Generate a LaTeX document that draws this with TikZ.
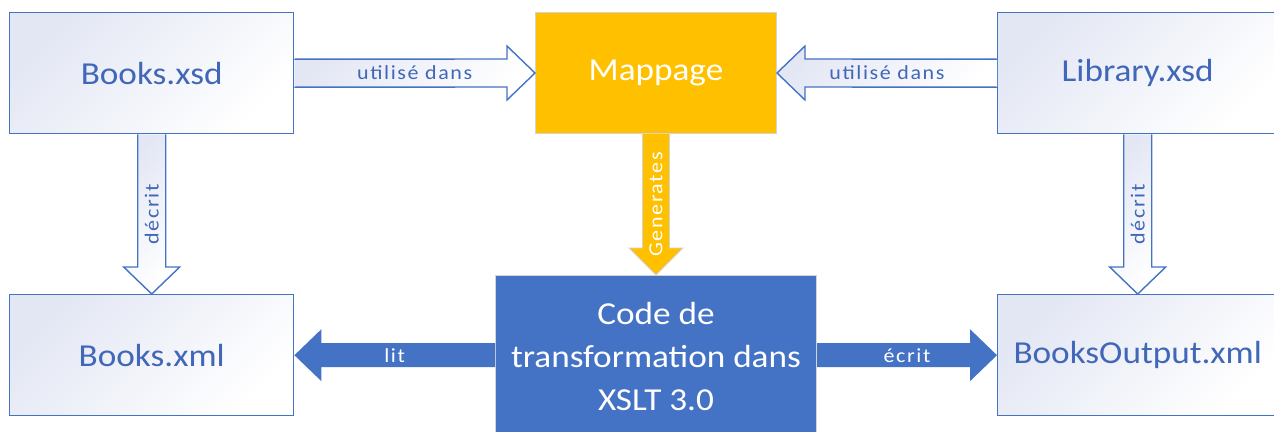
\documentclass[tikz,border=0pt]{standalone}
\usepackage{fontspec}
\setmainfont{Carlito}[FakeStretch=1.1]
\newfontfamily\lblfont{Carlito}[FakeStretch=1.1,LetterSpace=8]
\usetikzlibrary{calc}
\definecolor{obl}{HTML}{4472C4}
\definecolor{otx}{HTML}{4167B8}
\definecolor{lav}{HTML}{E3E7F4}
\definecolor{org}{HTML}{FFC000}
\definecolor{edg}{HTML}{D4D4D4}
\begin{document}
\begin{tikzpicture}[x=1pt,y=-1pt,
  filebox/.style={draw=obl, line width=1.4pt, top color=lav, bottom color=white, shading angle=45,
    minimum width=#1, minimum height=121pt, inner sep=0pt, anchor=north west, text=otx,
    font=\fontsize{32}{38}\selectfont},
  filebox/.default=284pt,
  hol/.style={draw=obl, line width=1.4pt, top color=lav, bottom color=white, shading angle=45, line join=miter},
  lbl/.style={font=\lblfont\fontsize{20}{24}\selectfont, inner sep=0pt},
]
\useasboundingbox (0,0) rectangle (1274,431);
\clip (0,0) rectangle (1274,431);
\fill[white] (0,0) rectangle (1274,431);

% nodes
\node[filebox] (bxsd) at (9,12) {Books.xsd};
\node[filebox] (bxml) at (9,294) {Books.xml};
\node[filebox=280pt] (lib) at (997,12) {Library.xsd};
\node[filebox=280pt] (bout) at (997,294) {BooksOutput.xml};
\node[draw=edg, line width=1pt, fill=org, text=white, minimum width=241pt, minimum height=121pt,
      inner sep=0pt, anchor=north west, font=\fontsize{32}{38}\selectfont] (map) at (535,12) {Mappage};
\node[draw=edg, line width=1pt, fill=obl, text=white, minimum width=321pt, minimum height=162pt,
      inner sep=0pt, anchor=north west, align=center, font=\fontsize{32}{43}\selectfont] (code) at (495,275)
      {Code de\\transformation dans\\XSLT 3.0};

% Books.xsd -> Mappage
\draw[hol] ($(bxsd.east)+(0,-14)$) -- ($(map.west)+(-28,-14)$) -- ($(map.west)+(-28,-27)$) -- (map.west)
  -- ($(map.west)+(-28,27)$) -- ($(map.west)+(-28,14)$) -- ($(bxsd.east)+(0,14)$);
\node[lbl, text=otx] (l1) at ($(bxsd.east)!0.5!(map.west)$) {utilisé dans};

% Library.xsd -> Mappage
\draw[hol] ($(lib.west)+(0,-14)$) -- ($(map.east)+(28,-14)$) -- ($(map.east)+(28,-27)$) -- (map.east)
  -- ($(map.east)+(28,27)$) -- ($(map.east)+(28,14)$) -- ($(lib.west)+(0,14)$);
\node[lbl, text=otx] (l2) at ($(lib.west)!0.5!(map.east)$) {utilisé dans};

% Books.xsd -> Books.xml
\draw[hol] ($(bxsd.south)+(-14,0)$) -- ($(bxml.north)+(-14,-27)$) -- ($(bxml.north)+(-28,-27)$) -- (bxml.north)
  -- ($(bxml.north)+(28,-27)$) -- ($(bxml.north)+(14,-27)$) -- ($(bxsd.south)+(14,0)$);
\node[lbl, text=otx, rotate=90] (l3) at ($(bxsd.south)!0.5!(bxml.north)$) {décrit};

% Library.xsd -> BooksOutput.xml
\draw[hol] ($(lib.south)+(-14,0)$) -- ($(bout.north)+(-14,-27)$) -- ($(bout.north)+(-28,-27)$) -- (bout.north)
  -- ($(bout.north)+(28,-27)$) -- ($(bout.north)+(14,-27)$) -- ($(lib.south)+(14,0)$);
\node[lbl, text=otx, rotate=90] (l4) at ($(lib.south)!0.5!(bout.north)$) {décrit};

% Mappage -> Code
\draw[draw=edg, line width=0.8pt, fill=org] ($(map.south)+(-13.5,0)$) -- ($(code.north)+(-13.5,-27)$) -- ($(code.north)+(-27,-27)$) -- (code.north)
  -- ($(code.north)+(27,-27)$) -- ($(code.north)+(13.5,-27)$) -- ($(map.south)+(13.5,0)$);
\node[lbl, text=white, rotate=90] (l5) at ($(map.south)!0.5!(code.north)$) {Generates};

% Code -> Books.xml (lit)
\fill[obl] ($(code.west |- bxml.east)+(0,-12)$) -- ($(bxml.east)+(27,-12)$) -- ($(bxml.east)+(27,-26)$) -- (bxml.east)
  -- ($(bxml.east)+(27,26)$) -- ($(bxml.east)+(27,12)$) -- ($(code.west |- bxml.east)+(0,12)$) -- cycle;
\node[lbl, text=white] (l6) at ($(code.west |- bxml.east)!0.5!(bxml.east)$) {lit};

% Code -> BooksOutput.xml (écrit)
\fill[obl] ($(code.east |- bout.west)+(0,-12)$) -- ($(bout.west)+(-27,-12)$) -- ($(bout.west)+(-27,-26)$) -- (bout.west)
  -- ($(bout.west)+(-27,26)$) -- ($(bout.west)+(-27,12)$) -- ($(code.east |- bout.west)+(0,12)$) -- cycle;
\node[lbl, text=white] (l7) at ($(code.east |- bout.west)!0.5!(bout.west)$) {écrit};
\end{tikzpicture}
\end{document}
